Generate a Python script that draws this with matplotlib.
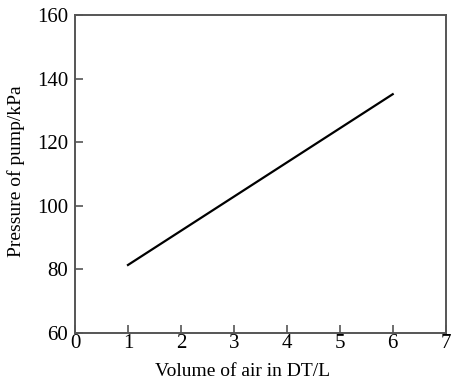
import matplotlib

matplotlib.use("Agg")
import matplotlib.pyplot as plt

# air volume in the dead tank (L) vs pump pressure (kPa)
volume = [1, 6]
pressure = [81.4, 135.1]

x_ticks = [0, 1, 2, 3, 4, 5, 6, 7]
y_ticks = [60, 80, 100, 120, 140, 160]

plt.rcParams["font.family"] = ["Liberation Serif", "DejaVu Serif"]

fig = plt.figure(figsize=(4.52, 3.85), dpi=100)
ax = fig.add_axes([0.166, 0.135, 0.820, 0.826])

ax.plot(volume, pressure, color="black", lw=1.6)

ax.set_xlim(0, 7)
ax.set_ylim(60, 160)
ax.set_xticks(x_ticks)
ax.set_yticks(y_ticks)
ax.tick_params(direction="in", length=6, width=1.2, color="#555555", labelsize=15)
ax.tick_params(axis="x", pad=1)
ax.tick_params(axis="y", pad=5)

for s in ax.spines.values():
    s.set_color("#555555")
    s.set_linewidth(1.4)

ax.set_xlabel("Volume of air in DT/L", fontsize=14)
ax.set_ylabel("Pressure of pump/kPa", fontsize=14)
ax.xaxis.set_label_coords(0.452, -0.095)
ax.yaxis.set_label_coords(-0.135, 0.51)

fig.savefig("out.png", dpi=100)
